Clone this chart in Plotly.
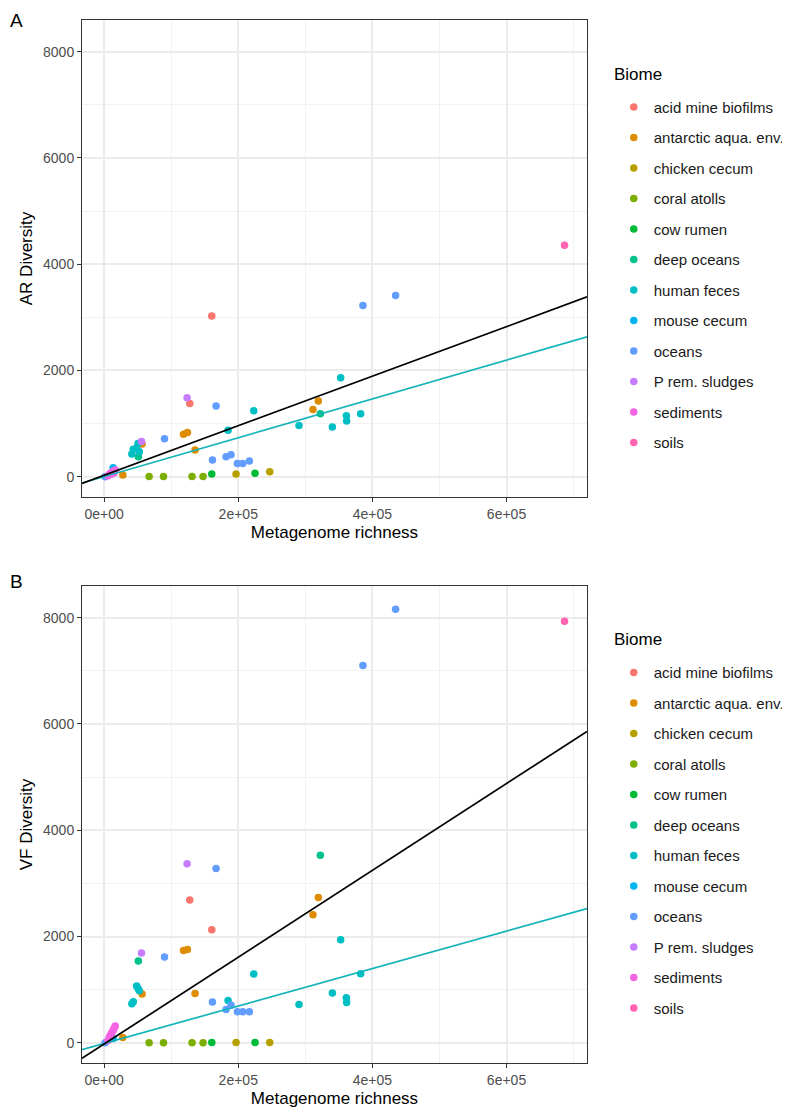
import plotly.graph_objects as go

# biome levels and ggplot default hue colours
biomes = ['acid mine biofilms', 'antarctic aqua. env.', 'chicken cecum', 'coral atolls',
          'cow rumen', 'deep oceans', 'human feces', 'mouse cecum', 'oceans',
          'P rem. sludges', 'sediments', 'soils']
colors = ['#F8766D', '#DE8C00', '#B79F00', '#7CAE00', '#00BA38', '#00C08B',
          '#00BFC4', '#00B4F0', '#619CFF', '#C77CFF', '#F564E3', '#FF64B0']

# one entry per metagenome
sample_biome = (['acid mine biofilms'] * 2 + ['antarctic aqua. env.'] * 7 + ['chicken cecum'] * 2
                + ['coral atolls'] * 4 + ['cow rumen'] * 2 + ['deep oceans'] * 2
                + ['human feces'] * 13 + ['mouse cecum'] + ['oceans'] * 11
                + ['P rem. sludges'] * 2 + ['sediments'] * 8 + ['soils'])
richness = [127700, 160500,
            27900, 56600, 118300, 124200, 135600, 311400, 319400,
            196700, 246900,
            67100, 88500, 131100, 147500,
            160500, 225000,
            51000, 322400,
            41300, 43500, 48500, 50500, 52500, 184800, 223100, 290600, 340300, 352700, 361200, 361600, 382500,
            13400,
            1500, 90000, 161500, 166900, 181800, 189200, 198700, 206700, 216600, 385900, 434600,
            55700, 123700,
            5800, 7600, 8700, 10400, 11900, 13700, 14800, 16600,
            686500]
ar_diversity = [1381, 3024,
                32, 615, 798, 835, 502, 1268, 1425,
                51, 94,
                3, 3, 3, 3,
                51, 64,
                376, 1186,
                427, 516, 540, 628, 470, 873, 1242, 967, 935, 1863, 1148, 1048, 1186,
                170,
                0, 715, 314, 1331, 376, 414, 252, 252, 295, 3225, 3413,
                666, 1487,
                18, 40, 62, 47, 85, 104, 72, 128,
                4355]
vf_diversity = [2686, 2127,
                101, 917, 1739, 1758, 930, 2409, 2736,
                8, 8,
                3, 3, 3, 3,
                5, 5,
                1538, 3527,
                734, 772, 1067, 1024, 979, 798, 1293, 722, 935, 1939, 847, 760, 1299,
                80,
                0, 1613, 766, 3282, 628, 709, 583, 583, 583, 7100, 8157,
                1688, 3369,
                45, 95, 128, 172, 205, 238, 276, 318,
                7931]

# fitted lines (intercept, slope): all samples (black) and human feces (teal)
fit_all_ar = (29, 0.004661)
fit_hf_ar = (3, 0.003652)
fit_all_vf = (-23, 0.008169)
fit_hf_vf = (-12, 0.003523)

x_range = [-33000, 720000]
y_range = [-380, 8595]

FONT = 'Liberation Sans, Arial, sans-serif'

fig = go.Figure()

panels = [('x', 'y', ar_diversity, 'legend', fit_all_ar, fit_hf_ar),
          ('x2', 'y2', vf_diversity, 'legend2', fit_all_vf, fit_hf_vf)]
for xa, ya, yvals, leg, fit_all, fit_hf in panels:
    for b, c in zip(biomes, colors):
        idx = [i for i, s in enumerate(sample_biome) if s == b]
        fig.add_trace(go.Scatter(
            x=[richness[i] for i in idx], y=[yvals[i] for i in idx],
            mode='markers', name=b, legend=leg, legendgroup=leg + b,
            marker=dict(color=c, size=7.5, line=dict(width=0)),
            xaxis=xa, yaxis=ya))
    for (a, m), lc in [(fit_hf, '#14B4B9'), (fit_all, 'black')]:
        fig.add_trace(go.Scatter(
            x=x_range, y=[a + m * v for v in x_range], mode='lines',
            line=dict(color=lc, width=1.7), showlegend=False, hoverinfo='skip',
            xaxis=xa, yaxis=ya))

axis_font = dict(family=FONT, size=14, color='#4D4D4D')
title_font = dict(family=FONT, size=17, color='black')

xcommon = dict(range=x_range, tickvals=[0, 200000, 400000, 600000],
               ticktext=['0e+00', '2e+05', '4e+05', '6e+05'],
               showline=True, mirror=True, linecolor='#333333', linewidth=1,
               ticks='outside', ticklen=4, tickcolor='#333333', tickwidth=1,
               showgrid=True, gridcolor='#EBEBEB', gridwidth=1.5, zeroline=False,
               minor=dict(tickvals=[100000, 300000, 500000, 700000], showgrid=True,
                          gridcolor='#F2F2F2', gridwidth=0.8),
               tickfont=axis_font, title=dict(text='Metagenome richness', font=title_font, standoff=5))
ycommon = dict(range=y_range, tickvals=[0, 2000, 4000, 6000, 8000],
               showline=True, mirror=True, linecolor='#333333', linewidth=1,
               ticks='outside', ticklen=4, tickcolor='#333333', tickwidth=1,
               showgrid=True, gridcolor='#EBEBEB', gridwidth=1.5, zeroline=False,
               minor=dict(tickvals=[1000, 3000, 5000, 7000], showgrid=True,
                          gridcolor='#F2F2F2', gridwidth=0.8),
               tickfont=axis_font)

legend_common = dict(font=dict(family=FONT, size=15, color='#1A1A1A'),
                     tracegroupgap=8, itemsizing='trace', xanchor='left', yanchor='top',
                     bgcolor='rgba(0,0,0,0)')

# the page body adds an 8px offset, margins compensate for it
fig.update_layout(
    width=790, height=1113,
    margin=dict(l=74, r=211, t=12, b=58, autoexpand=False),
    paper_bgcolor='white', plot_bgcolor='white',
    font=dict(family=FONT),
    xaxis=dict(domain=[0, 1], anchor='y', **xcommon),
    yaxis=dict(domain=[0.5427, 1], anchor='x', title=dict(text='AR Diversity', font=title_font, standoff=6),
               **ycommon),
    xaxis2=dict(domain=[0, 1], anchor='y2', **xcommon),
    yaxis2=dict(domain=[0, 0.4573], anchor='x2', title=dict(text='VF Diversity', font=title_font, standoff=6),
                **ycommon),
    legend=dict(x=1.053, y=0.9322, **legend_common),
    legend2=dict(x=1.053, y=0.3899, **legend_common),
    showlegend=True,
    annotations=[
        dict(text='A', x=0, y=1, xref='paper', yref='paper', xshift=-74, yshift=12,
             showarrow=False, xanchor='left', yanchor='top', font=dict(family=FONT, size=19, color='black')),
        dict(text='B', x=0, y=0.4573, xref='paper', yref='paper', xshift=-74, yshift=17,
             showarrow=False, xanchor='left', yanchor='top', font=dict(family=FONT, size=19, color='black')),
        dict(text='Biome', x=1.0495, y=0.9473, xref='paper', yref='paper', showarrow=False,
             xanchor='left', yanchor='middle', font=dict(family=FONT, size=17, color='black')),
        dict(text='Biome', x=1.0495, y=0.4056, xref='paper', yref='paper', showarrow=False,
             xanchor='left', yanchor='middle', font=dict(family=FONT, size=17, color='black')),
    ],
)

fig.write_html('out.html')
